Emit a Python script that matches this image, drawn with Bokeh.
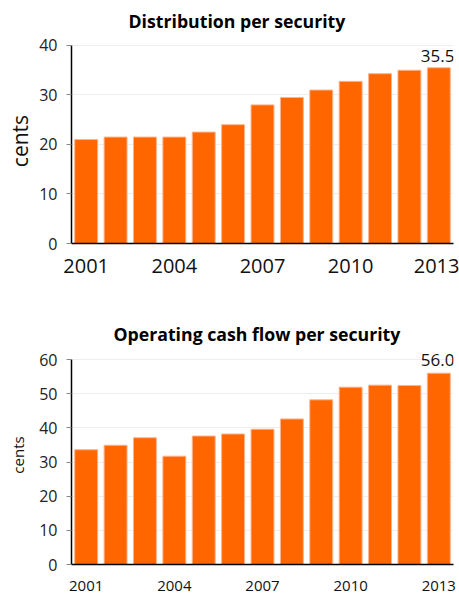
from bokeh.plotting import figure
from bokeh.layouts import column
from bokeh.models import Range1d, FixedTicker, Title, ColumnDataSource, Label
from bokeh.embed import file_html
from bokeh.resources import INLINE

years = list(range(2001, 2014))
distribution = [21.0, 21.5, 21.5, 21.5, 22.5, 24.0, 28.0, 29.5, 31.0, 32.75, 34.3, 35.0, 35.5]
cash_flow = [33.6, 34.9, 37.1, 31.7, 37.6, 38.2, 39.6, 42.6, 48.2, 51.9, 52.5, 52.4, 56.0]
x_ticks = [2001, 2004, 2007, 2010, 2013]
titles = ["Distribution per security", "Operating cash flow per security"]
y_max = [40, 60]
last_labels = ["35.5", "56.0"]

FONT = "Open Sans"
ORANGE = "#ff6600"


def make(values, title, ymax, y_end, last_label, height, top, bottom, xfs, yfs,
         title_offset, title_standoff, x_standoff, label_offset, ylab_standoff):
    p = figure(width=459, height=height, output_backend="svg", toolbar_location=None,
               x_range=Range1d(2000.5, 2013.5), y_range=Range1d(0, y_end),
               min_border_left=71, min_border_right=6, min_border_top=top,
               min_border_bottom=bottom)
    p.title = Title(text=title, text_font=FONT, text_font_size="17.7px", text_font_style="bold",
                    align="left", offset=title_offset, standoff=title_standoff, text_color="#000000")
    src = ColumnDataSource(dict(x=years, top=values))
    p.vbar(x="x", top="top", width=0.78, source=src, fill_color=ORANGE,
           line_color="#ffb38a", line_width=1)
    p.add_layout(Label(x=years[-1] + 0.5, y=values[-1], text=last_label, text_align="right",
                       text_baseline="alphabetic", y_offset=label_offset, x_offset=1,
                       text_font_size="17px", text_color="#111111", text_font=FONT))
    p.outline_line_color = None
    p.background_fill_color = "white"
    p.border_fill_color = "white"
    p.xgrid.grid_line_color = None
    p.ygrid.grid_line_color = "#eeeeee"
    p.ygrid.grid_line_width = 1
    p.ygrid.ticker = FixedTicker(ticks=list(range(10, ymax + 1, 10)))
    p.xaxis.ticker = FixedTicker(ticks=x_ticks)
    p.xaxis.major_tick_line_color = None
    p.xaxis.minor_tick_line_color = None
    p.xaxis.axis_line_color = "black"
    p.xaxis.axis_line_width = 1.5
    p.xaxis.major_label_text_font = FONT
    p.xaxis.major_label_text_font_size = xfs
    p.xaxis.major_label_text_color = "#111111"
    p.xaxis.major_label_standoff = x_standoff
    p.yaxis.ticker = FixedTicker(ticks=list(range(0, ymax + 1, 10)))
    p.yaxis.bounds = (0, ymax)
    p.yaxis.axis_line_color = "black"
    p.yaxis.axis_line_width = 1.5
    p.yaxis.major_tick_line_color = "#888888"
    p.yaxis.major_tick_out = 5
    p.yaxis.major_tick_in = 0
    p.yaxis.minor_tick_line_color = None
    p.yaxis.major_label_text_font = FONT
    p.yaxis.major_label_text_font_size = "16px"
    p.yaxis.major_label_text_color = "#222222"
    p.yaxis.major_label_standoff = 9
    p.yaxis.axis_label = "cents"
    p.yaxis.axis_label_text_font = FONT
    p.yaxis.axis_label_text_font_size = yfs
    p.yaxis.axis_label_text_font_style = "normal"
    p.yaxis.axis_label_text_color = "#111111"
    p.yaxis.axis_label_standoff = ylab_standoff
    return p


p1 = make(distribution, titles[0], y_max[0], 41.41, last_labels[0], 290, 38, 47,
          "20px", "21px", 57, 11, 9, 12, 2)
p2 = make(cash_flow, titles[1], y_max[1], 64.1, last_labels[1], 306, 55, 32,
          "15px", "15px", 42, 0, 10, 13, 8)
p = column(p1, p2, spacing=0)
open("out.html", "w").write(file_html(p, INLINE))
